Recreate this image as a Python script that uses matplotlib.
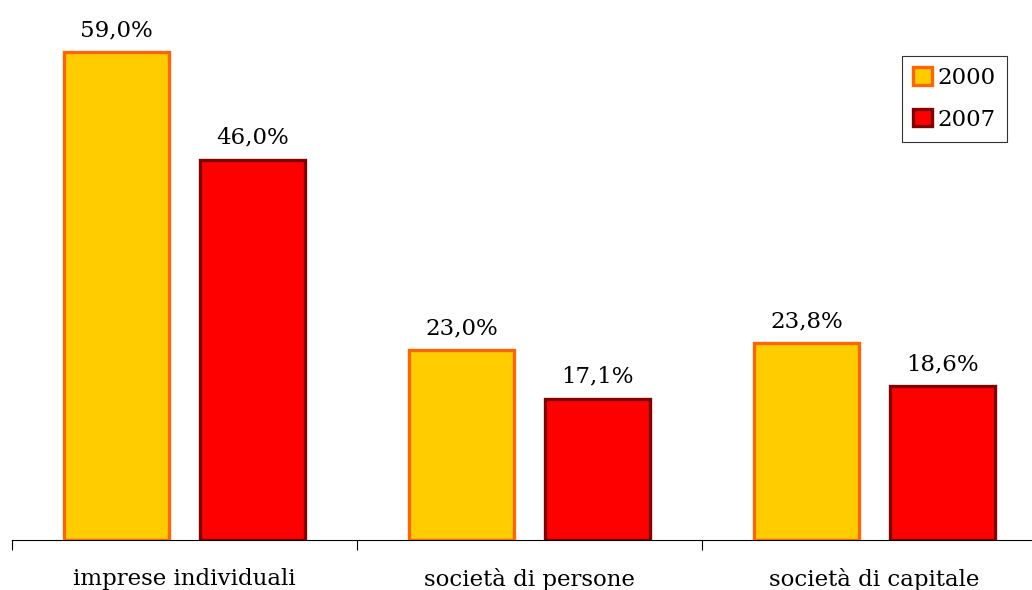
import matplotlib
matplotlib.use("Agg")
import matplotlib.pyplot as plt
import numpy as np

categories = ["imprese individuali", "società di persone", "società di capitale"]
years = ["2000", "2007"]
values_2000 = [59.0, 23.0, 23.8]
values_2007 = [46.0, 17.1, 18.6]

fills = ["#FFCC00", "#FF0000"]
edges = ["#FF6600", "#800000"]

plt.rcParams["font.family"] = ["DejaVu Serif"]

fig = plt.figure(figsize=(10.32, 5.9), dpi=100)
ax = fig.add_axes([12 / 1032, 50 / 590, 1035 / 1032, 540 / 590])

x = np.arange(len(categories))
width = 0.304
offset = 0.197

for i, (vals, year) in enumerate(zip([values_2000, values_2007], years)):
    pos = x + (offset if i else -offset)
    bars = ax.bar(pos, vals, width, color=fills[i], edgecolor=edges[i],
                  linewidth=2.4, label=year, zorder=3)
    for b, v in zip(bars, vals):
        ax.text(b.get_x() + b.get_width() / 2, v + 1.3,
                f"{v:.1f}%".replace(".", ","), ha="center", va="bottom",
                fontsize=16.5, color="black")

ax.set_xlim(-0.5, 2.5)
ax.set_ylim(0, 540 / 8.27)

for s in ["top", "right", "left"]:
    ax.spines[s].set_visible(False)
ax.spines["bottom"].set_linewidth(0.8)
ax.yaxis.set_visible(False)

ax.set_xticks(x)
ax.set_xticklabels(categories, fontsize=16.5)
ax.tick_params(axis="x", which="major", length=0, pad=20)
ax.set_xticks([-0.5, 0.5, 1.5, 2.5], minor=True)
ax.tick_params(axis="x", which="minor", length=7, width=0.8)

leg = ax.legend(loc="upper left", bbox_to_anchor=(890 / 1035, 0.897),
                fontsize=16.5, frameon=True, fancybox=False, edgecolor="black",
                handlelength=0.8, handleheight=0.8, handletextpad=0.25,
                borderpad=0.5, labelspacing=0.85, borderaxespad=0)
leg.get_frame().set_linewidth(0.8)

fig.savefig("out.png", dpi=100)
